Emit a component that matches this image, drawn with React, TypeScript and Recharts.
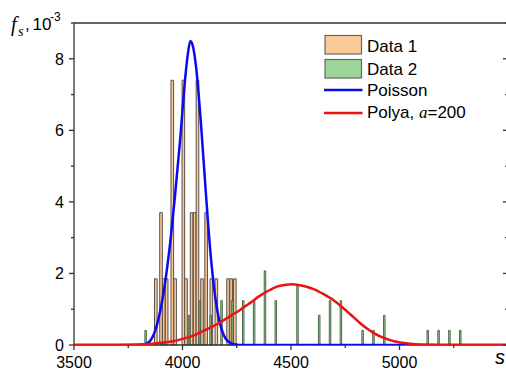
import React from 'react';
import { ComposedChart, Line, XAxis, YAxis, ReferenceArea } from 'recharts';

// axis ticks (s on x, f_s in units of 1e-3 on y)
const sTicks = [3500, 3750, 4000, 4250, 4500, 4750, 5000, 5250, 5500];
const fTicks = [0, 1, 2, 3, 4, 5, 6, 7, 8, 9];

// histogram "Data 1"
const data1S = [3877, 3901, 3914, 3927, 3953, 3966, 4004, 4016, 4042, 4056, 4069, 4090, 4109, 4133, 4156, 4210, 4224, 4241];
const data1F = [1.85, 3.7, 1.85, 1.85, 7.4, 1.85, 7.4, 1.85, 3.7, 3.7, 7.4, 1.85, 3.7, 1.85, 1.85, 1.85, 1.85, 1.85];

// histogram "Data 2"
const data2S = [3830, 4030, 4080, 4130, 4180, 4230, 4280, 4330, 4380, 4430, 4530, 4630, 4680, 4730, 4830, 4880, 4930, 5130, 5180, 5230, 5280];
const data2F = [0.41, 0.83, 1.24, 0.83, 1.24, 1.24, 1.24, 1.24, 2.07, 1.24, 1.66, 0.83, 1.24, 1.24, 0.41, 0.41, 0.83, 0.41, 0.41, 0.41, 0.41];

// Poisson curve
const poissonS = [3500, 3780, 3810, 3830, 3860, 3890, 3920, 3945, 3966, 3990, 4010, 4024, 4036, 4048, 4062, 4085, 4107, 4130, 4158, 4175, 4190, 4205, 4220, 4240, 4260, 5500];
const poissonF = [0, 0, 0.01, 0.03, 0.2, 0.75, 1.75, 2.95, 4.2, 5.8, 7.3, 8.1, 8.5, 8.35, 7.8, 6.2, 4.3, 2.5, 1.05, 0.55, 0.28, 0.13, 0.06, 0.02, 0, 0];

// Polya curve, a = 200
const polyaS = [3500, 3700, 3800, 3850, 3900, 3950, 3989, 4040, 4081, 4130, 4173, 4220, 4265, 4310, 4358, 4400, 4435, 4470, 4505, 4540, 4575, 4604, 4650, 4696, 4735, 4773, 4819, 4850, 4880, 4911, 4960, 5003, 5050, 5096, 5150, 5250, 5500];
const polyaF = [0, 0.003, 0.015, 0.03, 0.06, 0.1, 0.15, 0.24, 0.35, 0.49, 0.63, 0.81, 0.98, 1.17, 1.38, 1.53, 1.63, 1.68, 1.7, 1.67, 1.62, 1.56, 1.42, 1.25, 1.06, 0.86, 0.61, 0.46, 0.34, 0.24, 0.13, 0.07, 0.035, 0.015, 0.005, 0.001, 0];

const poissonData = poissonS.map((s, i) => ({ s, f: poissonF[i] }));
const polyaData = polyaS.map((s, i) => ({ s, f: polyaF[i] }));

const AXIS = '#333';
const SANS = 'Liberation Sans, Arial, sans-serif';
const SERIF = 'Liberation Serif, Times New Roman, serif';
const BLUE = '#0a0af0';
const RED = '#ee1111';
const ORANGE = '#fbc898';
const GREEN = '#9ed69a';
const W1 = 12; // bar widths in s units
const W2 = 7;

const BottomTick = ({ x, y, payload }: any) => {
  const major = payload.value % 500 === 0;
  return (
    <g>
      <line x1={x} y1={y} x2={x} y2={y + (major ? 5 : 3)} stroke={AXIS} strokeWidth={1.3} />
      {major && payload.value < 5500 && (
        <text x={x} y={y + 23} textAnchor="middle" fontSize={16} fontFamily={SANS} fill="#000">
          {payload.value}
        </text>
      )}
    </g>
  );
};

const TopTick = ({ x, y, payload }: any) => {
  const major = payload.value % 500 === 0;
  return <line x1={x} y1={y} x2={x} y2={y + (major ? 5 : 3)} stroke={AXIS} strokeWidth={1.3} />;
};

const LeftTick = ({ x, y, payload }: any) => {
  const major = payload.value % 2 === 0;
  return (
    <g>
      <line x1={x - (major ? 5 : 3)} y1={y} x2={x} y2={y} stroke={AXIS} strokeWidth={1.3} />
      {major && payload.value < 9 && (
        <text x={x - 10} y={y + 6} textAnchor="end" fontSize={16} fontFamily={SANS} fill="#000">
          {payload.value}
        </text>
      )}
    </g>
  );
};

const RightTick = ({ x, y, payload }: any) => {
  const major = payload.value % 2 === 0;
  return <line x1={x - (major ? 5 : 3)} y1={y} x2={x} y2={y} stroke={AXIS} strokeWidth={1.3} />;
};

export default function App() {
  return (
    <div style={{ position: 'absolute', left: 0, top: 0, width: 506, height: 372, overflow: 'hidden', background: '#fff' }}>
      <ComposedChart width={518} height={372} margin={{ top: 0, right: 0, bottom: 0, left: 0 }}>
        <XAxis
          xAxisId="bottom"
          dataKey="s"
          type="number"
          domain={[3500, 5500]}
          ticks={sTicks}
          interval={0}
          allowDataOverflow
          height={27}
          tickSize={0}
          tickMargin={0}
          tickLine={false}
          tick={<BottomTick />}
          axisLine={{ stroke: AXIS, strokeWidth: 1.3 }}
        />
        <XAxis
          xAxisId="top"
          orientation="top"
          type="number"
          domain={[3500, 5500]}
          ticks={sTicks}
          interval={0}
          allowDataOverflow
          height={23}
          tickSize={0}
          tickMargin={0}
          tickLine={false}
          tick={<TopTick />}
          axisLine={{ stroke: AXIS, strokeWidth: 1.3 }}
        />
        <YAxis
          yAxisId="left"
          type="number"
          domain={[0, 9]}
          ticks={fTicks}
          interval={0}
          allowDataOverflow
          width={74}
          tickSize={0}
          tickMargin={0}
          tickLine={false}
          tick={<LeftTick />}
          axisLine={{ stroke: AXIS, strokeWidth: 1.3 }}
        />
        <YAxis
          yAxisId="right"
          orientation="right"
          type="number"
          domain={[0, 9]}
          ticks={fTicks}
          interval={0}
          allowDataOverflow
          width={10}
          tickSize={0}
          tickMargin={0}
          tickLine={false}
          tick={<RightTick />}
          axisLine={{ stroke: AXIS, strokeWidth: 1.3 }}
        />

        {data1S.map((s, i) => (
          <ReferenceArea
            key={'d1-' + s}
            xAxisId="bottom"
            yAxisId="left"
            x1={s - W1 / 2}
            x2={s + W1 / 2}
            y1={0}
            y2={data1F[i]}
            fill={ORANGE}
            fillOpacity={1}
            stroke="#5a5048"
            strokeWidth={1}
          />
        ))}
        {data2S.map((s, i) => (
          <ReferenceArea
            key={'d2-' + s}
            xAxisId="bottom"
            yAxisId="left"
            x1={s - W2 / 2}
            x2={s + W2 / 2}
            y1={0}
            y2={data2F[i]}
            fill={GREEN}
            fillOpacity={1}
            stroke="#3d5c3d"
            strokeWidth={0.9}
          />
        ))}

        {/* curves sit above the axis lines */}
        <Line
          xAxisId="bottom"
          yAxisId="left"
          data={poissonData}
          dataKey="f"
          type="monotone"
          stroke={BLUE}
          strokeWidth={2.5}
          dot={false}
          zIndex={600}
          isAnimationActive={false}
        />
        <Line
          xAxisId="bottom"
          yAxisId="left"
          data={polyaData}
          dataKey="f"
          type="monotone"
          stroke={RED}
          strokeWidth={2.5}
          dot={false}
          zIndex={610}
          isAnimationActive={false}
        />
      </ComposedChart>

      <svg width={506} height={372} style={{ position: 'absolute', left: 0, top: 0, pointerEvents: 'none' }}>
        {/* y title: f_s, 10^-3 */}
        <text x={11} y={31} fontFamily={SERIF} fontStyle="italic" fontSize={20}>f</text>
        <text x={18} y={36} fontFamily={SERIF} fontStyle="italic" fontSize={14}>s</text>
        <text x={25} y={30} fontFamily={SANS} fontSize={17}>,</text>
        <text x={32.5} y={30} fontFamily={SANS} fontSize={17}>10</text>
        <text x={50} y={21} fontFamily={SANS} fontSize={12}>-3</text>
        {/* x title */}
        <text x={495} y={364} fontFamily={SANS} fontStyle="italic" fontSize={20}>s</text>

        {/* legend */}
        <rect x={325} y={35.5} width={36.5} height={18.5} fill={ORANGE} stroke="#666" strokeWidth={1.2} />
        <text x={367} y={51.5} fontFamily={SANS} fontSize={17}>Data 1</text>
        <rect x={325} y={59.5} width={36.5} height={18.5} fill={GREEN} stroke="#666" strokeWidth={1.2} />
        <text x={367} y={75} fontFamily={SANS} fontSize={17}>Data 2</text>
        <line x1={324} x2={362.5} y1={90} y2={90} stroke={BLUE} strokeWidth={2.5} />
        <text x={367} y={95.5} fontFamily={SANS} fontSize={17}>Poisson</text>
        <line x1={324} x2={362.5} y1={113} y2={113} stroke={RED} strokeWidth={2.5} />
        <text x={367} y={118} fontFamily={SANS} fontSize={17}>
          Polya, <tspan fontFamily={SERIF} fontStyle="italic">a</tspan>=200
        </text>
      </svg>
    </div>
  );
}
